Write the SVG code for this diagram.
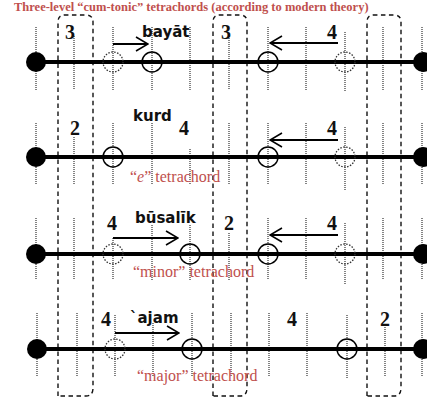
<svg xmlns="http://www.w3.org/2000/svg" width="427" height="397" viewBox="0 0 427 397">
<defs>
<style>
.tick{stroke:#333;stroke-width:1.2;stroke-dasharray:1 1;fill:none}
.box{stroke:#111;stroke-width:1.4;stroke-dasharray:4.5 3.5;fill:none}
.axis{stroke:#000;stroke-width:4}
.dot{fill:#000}
.sc{fill:none;stroke:#000;stroke-width:1.5}
.dc{fill:none;stroke:#333;stroke-width:1.3;stroke-dasharray:1.5 1.5}
.arr{stroke:#000;stroke-width:2;fill:none;marker-end:url(#ah)}
.num{font-family:"Liberation Serif",serif;font-weight:bold;font-size:20px;fill:#111}
.lbl{font-family:"DejaVu Sans",sans-serif;font-weight:bold;font-size:15px;fill:#111}
.red{font-family:"Liberation Serif",serif;font-size:16px;fill:#c0504d}
</style>
<marker id="ah" viewBox="0 0 14 16" refX="13" refY="8" markerWidth="14" markerHeight="16" markerUnits="userSpaceOnUse" orient="auto">
<path d="M1,1 L13,8 L1,15" fill="none" stroke="#000" stroke-width="1.6"/>
</marker>
</defs>
<text x="14" y="11" font-family="Liberation Serif, serif" font-weight="bold" font-size="12.5" fill="#c0504d">Three-level “cum-tonic” tetrachords (according to modern theory)</text>
<g id="boxes">
<path class="box" d="M58,396 V22 Q58,15 65,15 H86 Q93,15 93,22 V388 Q93,396 86,396 Z"/>
<path class="box" d="M213,396 V22 Q213,15 220,15 H240 Q247,15 247,22 V388 Q247,396 240,396 Z"/>
<path class="box" d="M367,396 V22 Q367,15 374,15 H394 Q401,15 401,22 V388 Q401,396 394,396 Z"/>
</g>
<g id="row1">
<path class="tick" d="M36,27V90 M74,36V90 M113,27V90 M152,27V90 M190,27V90 M229,36V90 M268,27V90 M306,27V90 M345,32V92 M383,27V90 M422,27V90"/>
<line class="axis" x1="36" y1="62" x2="422" y2="62"/>
<circle class="dot" cx="36" cy="62" r="10"/><circle class="dot" cx="423" cy="62" r="10"/>
<circle class="dc" cx="113" cy="62" r="10"/><circle class="sc" cx="152" cy="62" r="10"/>
<circle class="sc" cx="268" cy="62" r="10"/><circle class="dc" cx="345" cy="62" r="10"/>
<text class="num" x="65" y="39">3</text><text class="num" x="221" y="39">3</text><text class="num" x="327" y="39">4</text>
<text class="lbl" x="142" y="37">bayāt</text>
</g>
<g id="row2">
<path class="tick" d="M36,123V185 M74,137V185 M113,123V185 M152,123V185 M190,149V185 M229,123V185 M268,123V185 M306,123V185 M345,127V190 M383,123V185 M422,123V185"/>
<line class="axis" x1="36" y1="157" x2="422" y2="157"/>
<circle class="dot" cx="36" cy="157" r="10"/><circle class="dot" cx="423" cy="157" r="10"/>
<circle class="sc" cx="113" cy="157" r="10"/>
<circle class="sc" cx="268" cy="157" r="10"/><circle class="dc" cx="345" cy="157" r="10"/>
<text class="num" x="70" y="135">2</text><text class="num" x="179" y="135">4</text><text class="num" x="327" y="135">4</text>
<text class="lbl" x="133" y="121">kurd</text>
<text class="red" x="130" y="182">“<tspan font-style="italic">e</tspan>” tetrachord</text>
</g>
<g id="row3">
<path class="tick" d="M36,218V280 M74,218V280 M113,238V280 M152,225V280 M190,225V280 M229,233V280 M268,218V280 M306,218V280 M345,223V285 M383,218V280 M422,218V280"/>
<line class="axis" x1="36" y1="254" x2="422" y2="254"/>
<circle class="dot" cx="36" cy="254" r="10"/><circle class="dot" cx="423" cy="254" r="10"/>
<circle class="dc" cx="113" cy="254" r="10"/><circle class="sc" cx="190" cy="254" r="10"/>
<circle class="sc" cx="268" cy="254" r="10"/><circle class="dc" cx="345" cy="254" r="10"/>
<text class="num" x="107" y="230">4</text><text class="num" x="224" y="230">2</text><text class="num" x="327" y="230">4</text>
<text class="lbl" x="135" y="223">būsalīk</text>
<text class="red" x="133" y="277">“minor” tetrachord</text>
</g>
<g id="row4">
<path class="tick" d="M37,313V377 M77,313V377 M115,315V377 M153,323V377 M192,313V377 M231,313V377 M269,313V377 M307,313V377 M347,315V378 M385,327V377 M422,313V377"/>
<line class="axis" x1="36" y1="349" x2="422" y2="349"/>
<circle class="dot" cx="37" cy="349" r="10"/><circle class="dot" cx="423" cy="349" r="10"/>
<circle class="dc" cx="115" cy="349" r="10"/><circle class="sc" cx="192" cy="349" r="10"/>
<circle class="sc" cx="347" cy="349" r="10"/>
<text class="num" x="101" y="326">4</text><text class="num" x="287" y="326">4</text><text class="num" x="380" y="326">2</text>
<text class="lbl" x="130" y="323">`ajam</text>
<text class="red" x="137" y="381">“major” tetrachord</text>
</g>
<g id="connectors">
<line class="arr" x1="113" y1="44" x2="148" y2="44"/>
<line class="arr" x1="338" y1="43" x2="270" y2="43"/>
<line class="arr" x1="338" y1="140" x2="270" y2="140"/>
<line class="arr" x1="113" y1="238" x2="178" y2="238"/>
<line class="arr" x1="338" y1="235" x2="270" y2="235"/>
<line class="arr" x1="115" y1="333" x2="179" y2="333"/>
</g>
</svg>
